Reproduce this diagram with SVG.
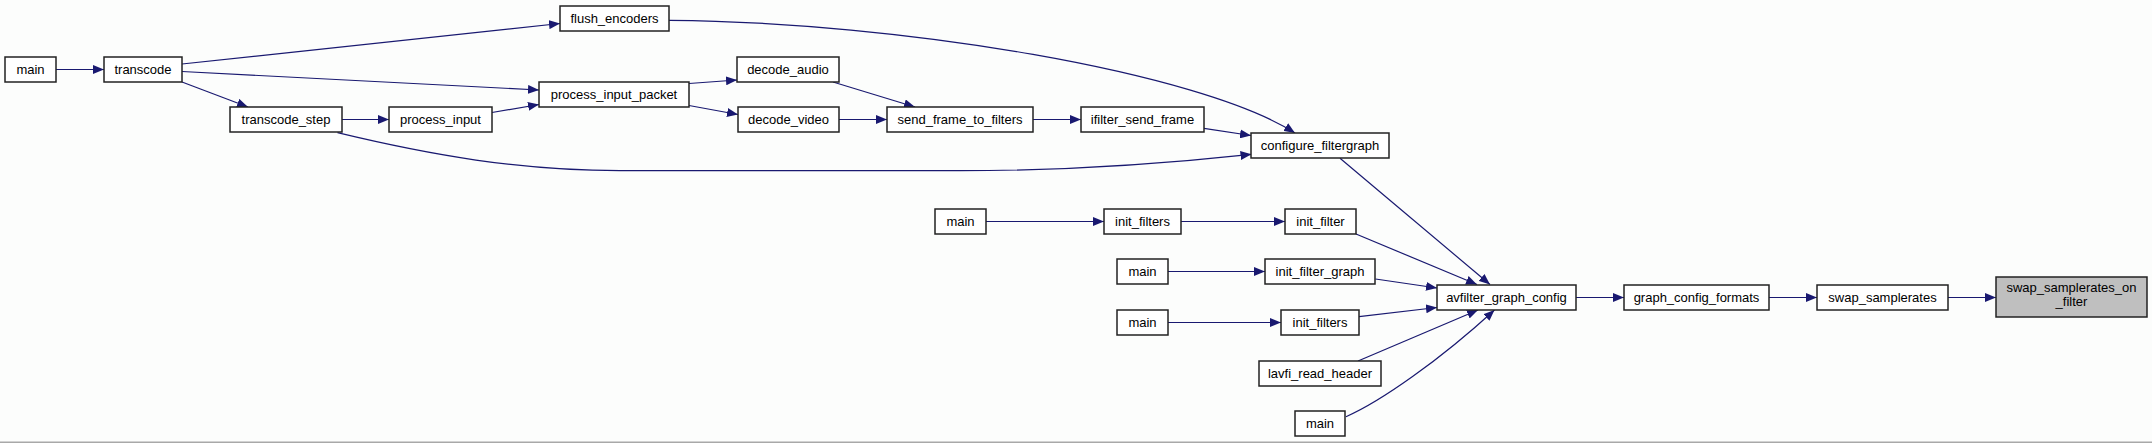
<svg xmlns="http://www.w3.org/2000/svg" width="2152" height="443" viewBox="0 0 2152 443">
<style>
.n rect{fill:#ffffff;stroke:#222222;stroke-width:1.5}
.n.cur rect{fill:#bfbfbf}
.n text{font-family:"Liberation Sans",Arial,sans-serif;font-size:13px;fill:#000;text-anchor:middle}
.e path{fill:none;stroke:#191970;stroke-width:1.2;marker-end:url(#ah)}
</style>
<defs>
<marker id="ah" markerUnits="userSpaceOnUse" viewBox="0 0 11 9" markerWidth="11" markerHeight="9" refX="11" refY="4.5" orient="auto">
<path d="M0,0 L11,4.5 L0,9 Z" fill="#191970"/>
</marker>
</defs>
<rect x="0" y="0" width="2152" height="443" fill="#fcfdfc"/>
<rect x="0" y="441.5" width="2152" height="1.5" fill="#a8a8a8"/>

<g id="edges" class="e">
<path d="M56,69.5 L104,69.5"/>
<path d="M182,64 L560,23.5"/>
<path d="M182,71.5 L539,90"/>
<path d="M182,82 L248,107"/>
<path d="M342,119.5 L389,119.5"/>
<path d="M492,112.5 L539,104.5"/>
<path d="M689,83.5 L737,80"/>
<path d="M689,105.5 L738,114.5"/>
<path d="M833,82 L915,107"/>
<path d="M839,119.5 L887,119.5"/>
<path d="M1033,119.5 L1081,119.5"/>
<path d="M1204,128.3 L1251,135.5"/>
<path d="M669,20.3 C900,22 1200,72 1295,133"/>
<path d="M337.5,132.7 C430,155 520,170.7 620,170.7 L960,170.7 C1080,170.7 1180,162 1251.5,154.3"/>
<path d="M1340,158.3 L1490,284.5"/>
<path d="M986,221.5 L1104,221.5"/>
<path d="M1181,221.5 L1285,221.5"/>
<path d="M1356,234 L1477,284.5"/>
<path d="M1168,271.5 L1265,271.5"/>
<path d="M1375.5,279 L1437,288"/>
<path d="M1168,322.5 L1281,322.5"/>
<path d="M1359,316.7 L1437,307.5"/>
<path d="M1358,361 L1478,310"/>
<path d="M1346,416.7 C1380,402 1440,360 1494.5,310"/>
<path d="M1576,297.5 L1624,297.5"/>
<path d="M1769,297.5 L1817,297.5"/>
<path d="M1948,297.5 L1996,297.5"/>
</g>

<g id="main_a" class="n"><rect x="5" y="57" width="51" height="25"/><text x="30.5" y="74">main</text></g>
<g id="transcode" class="n"><rect x="104" y="57" width="78" height="25"/><text x="143" y="74">transcode</text></g>
<g id="flush_encoders" class="n"><rect x="560" y="6" width="109" height="25"/><text x="614.5" y="23">flush_encoders</text></g>
<g id="process_input_packet" class="n"><rect x="539" y="82" width="150" height="25"/><text x="614" y="99">process_input_packet</text></g>
<g id="transcode_step" class="n"><rect x="230" y="107" width="112" height="25"/><text x="286" y="124">transcode_step</text></g>
<g id="process_input" class="n"><rect x="389" y="107" width="103" height="25"/><text x="440.5" y="124">process_input</text></g>
<g id="decode_audio" class="n"><rect x="737" y="57" width="102" height="25"/><text x="788" y="74">decode_audio</text></g>
<g id="decode_video" class="n"><rect x="738" y="107" width="101" height="25"/><text x="788.5" y="124">decode_video</text></g>
<g id="send_frame_to_filters" class="n"><rect x="887" y="107" width="146" height="25"/><text x="960" y="124">send_frame_to_filters</text></g>
<g id="ifilter_send_frame" class="n"><rect x="1081" y="107" width="123" height="25"/><text x="1142.5" y="124">ifilter_send_frame</text></g>
<g id="configure_filtergraph" class="n"><rect x="1251" y="133" width="138" height="25"/><text x="1320" y="150">configure_filtergraph</text></g>
<g id="main_b" class="n"><rect x="935" y="209" width="51" height="25"/><text x="960.5" y="226">main</text></g>
<g id="init_filters_a" class="n"><rect x="1104" y="209" width="77" height="25"/><text x="1142.5" y="226">init_filters</text></g>
<g id="init_filter" class="n"><rect x="1285" y="209" width="71" height="25"/><text x="1320.5" y="226">init_filter</text></g>
<g id="main_c" class="n"><rect x="1117" y="259" width="51" height="25"/><text x="1142.5" y="276">main</text></g>
<g id="init_filter_graph" class="n"><rect x="1265" y="259" width="110" height="25"/><text x="1320" y="276">init_filter_graph</text></g>
<g id="avfilter_graph_config" class="n"><rect x="1437" y="285" width="139" height="25"/><text x="1506.5" y="302">avfilter_graph_config</text></g>
<g id="main_d" class="n"><rect x="1117" y="310" width="51" height="25"/><text x="1142.5" y="327">main</text></g>
<g id="init_filters_b" class="n"><rect x="1281" y="310" width="78" height="25"/><text x="1320" y="327">init_filters</text></g>
<g id="lavfi_read_header" class="n"><rect x="1259" y="361" width="122" height="25"/><text x="1320" y="378">lavfi_read_header</text></g>
<g id="main_e" class="n"><rect x="1295" y="411" width="50" height="25"/><text x="1320" y="428">main</text></g>
<g id="graph_config_formats" class="n"><rect x="1624" y="285" width="145" height="25"/><text x="1696.5" y="302">graph_config_formats</text></g>
<g id="swap_samplerates" class="n"><rect x="1817" y="285" width="131" height="25"/><text x="1882.5" y="302">swap_samplerates</text></g>
<g id="swap_samplerates_on_filter" class="n cur"><rect x="1996" y="277" width="151" height="40"/><text x="2071.5" y="292">swap_samplerates_on</text><text x="2071.5" y="306">_filter</text></g>
</svg>
